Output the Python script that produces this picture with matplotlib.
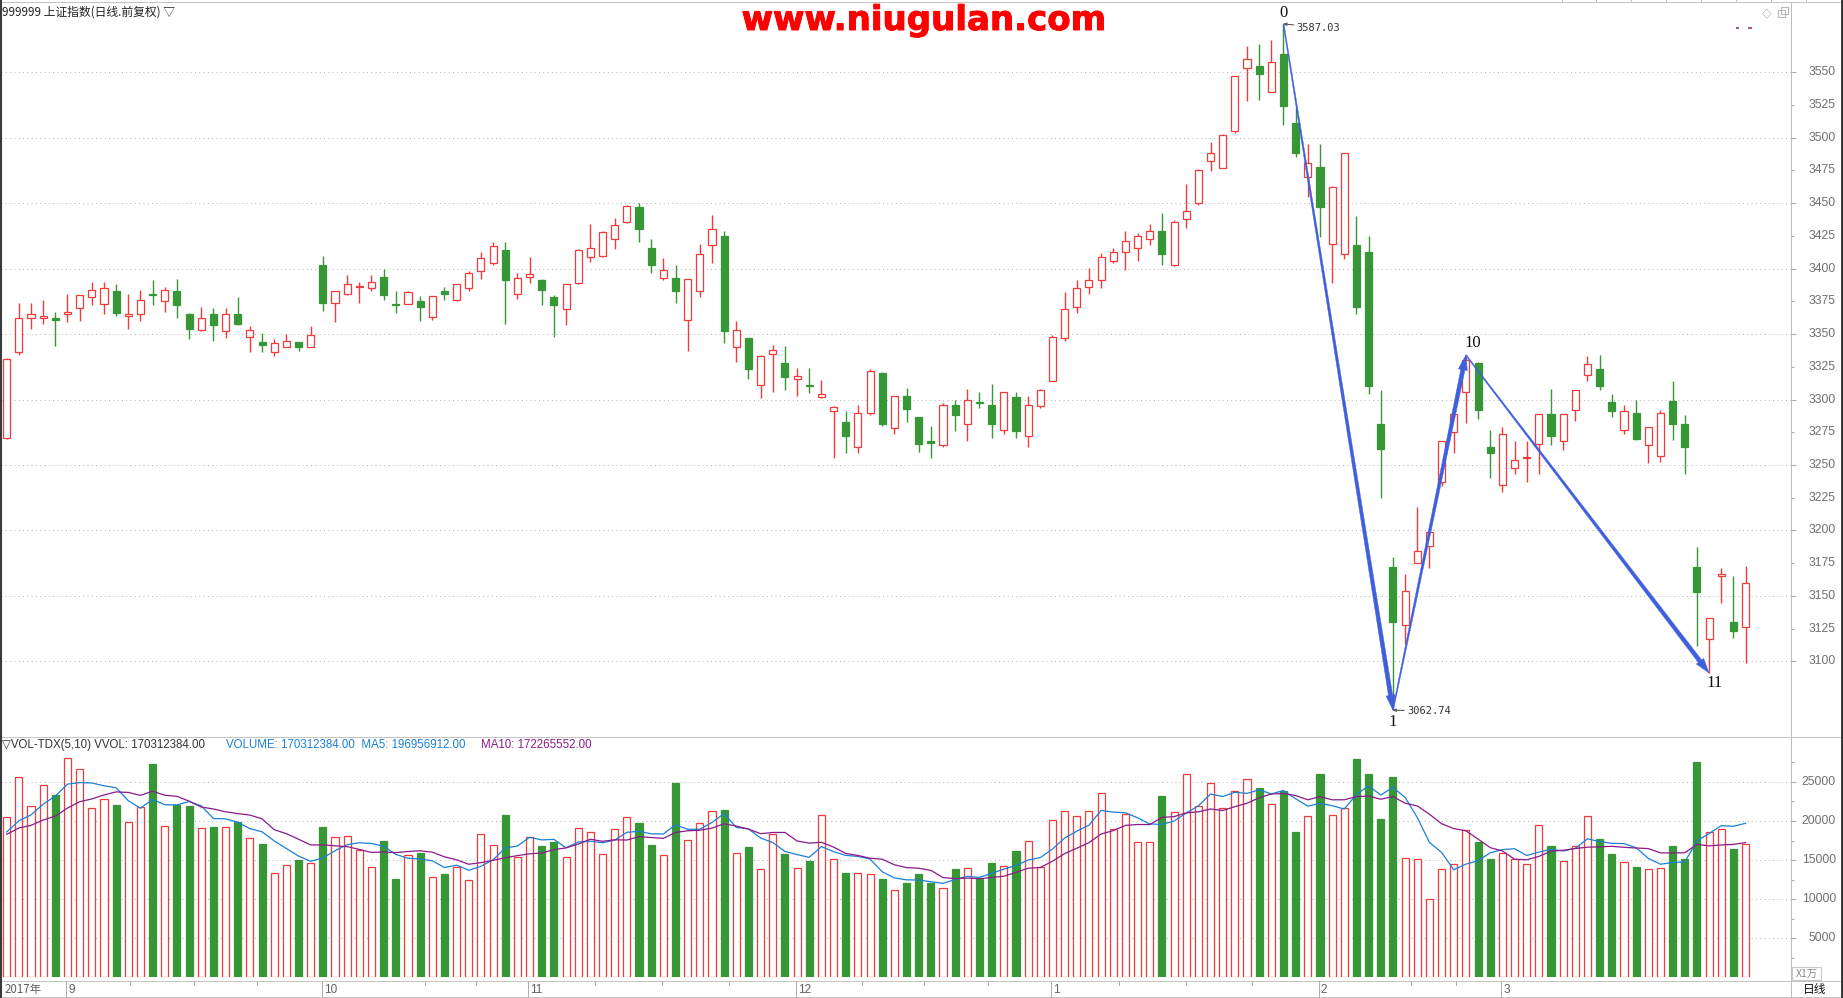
import numpy as np
import pandas as pd
import matplotlib
matplotlib.use('Agg')
import matplotlib.pyplot as plt
from matplotlib.lines import Line2D
from matplotlib.patches import Polygon, Rectangle
import matplotlib.transforms as mtransforms
import matplotlib.patheffects as pe

W, H, DPI = 1843, 998, 100

# ---------------- data (SSE composite, daily, 2017-08-25 .. 2018-03-29) ----------------
opens = [3271,3336,3362,3362,3362,3365,3370,3378,3373,3383,
 3364,3365,3381,3375,3383,3365,3353,3365,3352,3365,
 3348,3344,3336,3340,3344,3340,3403,3374,3381,3386,
 3385,3394,3373,3373,3375,3363,3383,3376,3385,3398,
 3404,3414,3381,3394,3391,3378,3369,3389,3409,3410,
 3423,3436,3447,3416,3393,3393,3361,3383,3418,3425,
 3340,3347,3311,3335,3328,3316,3311,3302,3291,3283,
 3264,3290,3320,3278,3303,3287,3268,3265,3296,3281,
 3298,3296,3277,3302,3272,3295,3314,3347,3371,3386,
 3391,3406,3413,3416,3423,3429,3403,3438,3450,3482,
 3477,3505,3553,3555,3535,3564,3511,3470,3478,3419,
 3411,3418,3413,3281,3172,3128,3175,3188,3237,3275,
 3306,3328,3264,3235,3248,3255,3266,3289,3268,3292,
 3319,3323,3298,3277,3290,3265,3257,3299,3281,3172,
 3117,3165,3130,3126]
highs = [3332,3374,3374,3376,3367,3381,3380,3390,3390,3388,
 3381,3384,3391,3386,3392,3366,3371,3370,3370,3378,
 3356,3351,3346,3350,3344,3356,3410,3383,3395,3390,
 3395,3400,3383,3383,3379,3379,3386,3388,3398,3413,
 3420,3420,3397,3409,3392,3380,3388,3415,3434,3429,
 3439,3449,3450.5,3423,3408,3403,3392,3419,3441,3429,
 3360,3347,3334,3342,3341,3324,3324,3315,3295,3291,
 3296,3323,3321,3303,3309,3287,3280,3297,3300,3308,
 3306,3312,3306,3306,3303,3308,3349,3382,3391,3400.5,
 3412,3416,3429,3427,3434,3442.5,3437,3464.5,3476,3497,
 3503,3547,3570,3572,3575,3587.03,3523,3495,3495,3463,
 3488,3440,3425,3307,3180,3167,3218,3199,3268,3289,
 3334,3329,3277,3279,3268,3268,3289,3308,3289,3307,
 3333,3334,3304,3296,3300,3279,3292,3314,3288,3187,
 3133,3171,3165,3173]
lows = [3270,3334,3354,3358,3341,3359,3360,3372,3365,3364,
 3354,3360,3372,3367,3362,3346,3352,3345,3347,3357,
 3336,3336,3333,3340,3337,3340,3368,3359,3380,3374,
 3383,3376,3366,3373,3360,3361,3376,3375,3383,3392,
 3403,3358,3377,3389,3372,3348,3357,3388,3405,3409,
 3415,3435,3420,3397,3391,3374,3337,3378,3404,3343,
 3329,3316,3301.5,3306,3307,3303,3305,3301,3255,3259,
 3259,3288,3280,3274,3282.5,3260,3255,3264,3276,3268,
 3293.5,3271,3274,3271,3264,3293.5,3314,3345,3366,3381,
 3385,3404,3399,3406,3418,3403,3402,3431,3449,3474.5,
 3477,3504,3528,3529,3535,3510,3485,3455,3424,3389,
 3407,3365,3304,3225,3062.74,3113,3175,3171,3234,3259,
 3282,3285,3240,3229,3243,3237,3243,3265,3261.5,3283.5,
 3314,3307,3287,3274,3269,3251.5,3252.5,3269,3243,3112,
 3091,3144.5,3118,3099]
closes = [3331,3362,3365,3364,3361,3367,3380,3384,3385,3366,
 3365,3376,3380,3384,3372,3354,3362,3357,3365,3358,
 3353,3342,3343,3345,3340,3349,3374,3383,3388,3387,
 3390,3380,3372,3382,3371,3379,3381,3388,3397,3408,
 3417,3391,3393,3396,3384,3372,3388,3414,3416,3428,
 3433,3448,3430,3403,3399,3383,3392,3411,3430,3352,
 3353,3323,3333,3338,3317,3318,3310,3304,3294,3272,
 3290,3322,3281,3303,3293,3266,3267,3296,3288,3300,
 3297,3281,3306,3276,3296,3307,3348,3369,3385,3391,
 3409,3413,3421.5,3425,3429,3411,3436,3444,3475,3488,
 3502,3547,3560,3549,3558,3524,3488,3481,3447,3462,
 3488,3371,3310,3262,3130,3154,3184,3199,3268,3289,
 3330,3292,3259,3274,3254,3256,3289,3272,3289,3307,
 3327,3310,3291,3291,3270,3279,3290,3281,3264,3153,
 3133,3167,3123,3160]
# volume in units of 1万 (x10,000)
volumes = [20470,25650,21890,24550,23380,28110,26620,21640,22800,22090,
 19820,21830,27270,19370,22020,21960,19050,19180,19180,19820,
 17880,17040,13350,14320,14970,14580,19180,17950,18140,16270,
 14070,17500,12640,15680,15880,12840,13220,14130,12450,18400,
 16980,20800,15360,18010,16780,17300,15420,19050,18530,15810,
 18920,20470,19700,16910,15680,24870,17560,19700,21250,21440,
 15940,16650,13810,18400,15750,13940,14840,20730,15170,13350,
 13290,13160,12560,11240,12120,13160,12120,11480,13800,14040,
 12520,14680,14200,16200,17400,14120,20120,21240,20600,21240,
 23560,19000,20920,17320,17320,23240,21160,26040,21960,24840,
 21640,23880,25320,24280,22200,23800,18600,20600,26040,20760,
 21640,27960,26040,20200,25640,15240,15160,10040,13880,14520,
 18840,17320,15080,15960,15080,14520,19480,16840,14920,16760,
 20600,17720,15720,14760,14120,13800,13960,16840,15080,27560,
 18600,18920,16440,17031]
# volumes of the 9 sessions before the window (only feed the moving averages)
vol_prior = [17600,18400,17900,18300,17800,18500,18100,17700,18200]

month_labels = ['9', '10', '11', '12', '1', '2', '3']
month_start_idx = [5, 26, 43, 65, 86, 108, 123]
minor_tick_pos = [10.1, 15.4, 20.6, 34.4, 38.6, 48.4, 53.9, 59.4, 70.3,
                  75.4, 80.7, 91.5, 97.0, 102.4, 115.5, 119.2]
wave_idx = [105, 114, 120, 140]
wave_kind = ['high', 'low', 'high', 'low']
wave_labels = ['0', '1', '10', '11']
price_ticks = list(range(3100, 3551, 25))
price_grid = list(range(3100, 3551, 50))
vol_ticks = [5000, 10000, 15000, 20000, 25000]
vol_minor = [2500, 7500, 12500, 17500, 22500, 27500]

title_text = '999999 上证指数(日线.前复权) ▽'
watermark = 'www.niugulan.com'
vol_hdr1 = '▽VOL-TDX(5,10) VVOL: 170312384.00'
vol_hdr2 = 'VOLUME: 170312384.00  MA5: 196956912.00'
vol_hdr3 = 'MA10: 172265552.00'

# ---------------- style ----------------
RED = '#F43A3A'
GREEN = '#379737'
BLUE = '#1A80D8'
PURPLE = '#8A1A8A'
ARROW = '#3F5FDC'
GRID = '#B4B4B4'
LABEL = '#707070'
NUMFONT = ['Liberation Sans', 'DejaVu Sans']
CJK = ['Noto Sans CJK SC', 'DejaVu Sans']

def fx(x):
    return x / W

def fy(y):
    return 1 - y / H

fig = plt.figure(figsize=(W / DPI, H / DPI), dpi=DPI, facecolor='white')

AX_L, AX_R = 1.0, 1790.7
ax = fig.add_axes([fx(AX_L), fy(736), (AX_R - AX_L) / W, (736 - 3) / H])
axv = fig.add_axes([fx(AX_L), fy(977.4), (AX_R - AX_L) / W, (977.4 - 737) / H])
for a in (ax, axv):
    a.set_facecolor('none')
    for s in a.spines.values():
        s.set_visible(False)
    a.set_xticks([])

X0, DX = 6.7, 12.16
xlim = ((AX_L - X0) / DX, (AX_R - X0) / DX)
ax.set_xlim(xlim)
axv.set_xlim(xlim)
ax.set_ylim(3042.97, 3602.94)
axv.set_ylim(0, 30742)

o = np.array(opens, float); h = np.array(highs, float)
l = np.array(lows, float); c = np.array(closes, float)
v = np.array(volumes, float)
n = len(o)
x = np.arange(n)
up = c >= o
edge = np.where(up, RED, GREEN)
face = np.where(up, 'white', GREEN)

# gridlines
for p in price_grid:
    ax.plot(xlim, [p, p], color=GRID, lw=0.72, ls=(0, (1, 3.3)), zorder=1)
for q in vol_ticks:
    axv.plot(xlim, [q, q], color=GRID, lw=0.72, ls=(0, (1, 3.3)), zorder=1)

# candles
ax.vlines(x, l, h, colors=edge, lw=1.0, zorder=2)
body_bot = np.minimum(o, c)
body_h = np.maximum(np.abs(c - o), 0.35)
ax.bar(x, body_h, bottom=body_bot, width=0.58, color=face, edgecolor=edge,
       linewidth=0.9, zorder=3)

# volume bars + MAs
axv.bar(x, v, width=0.58, color=face, edgecolor=edge, linewidth=0.9, zorder=3)
allv = pd.Series(vol_prior + volumes, dtype=float)
ma5 = allv.rolling(5).mean().to_numpy()[len(vol_prior):]
ma10 = allv.rolling(10).mean().to_numpy()[len(vol_prior):]
axv.plot(x, ma5, color=BLUE, lw=0.9, zorder=4)
axv.plot(x, ma10, color=PURPLE, lw=0.9, zorder=4)

# right axis ticks
for a, majors, minors in ((ax, price_grid, [t for t in price_ticks if t % 50]),
                          (axv, vol_ticks, vol_minor)):
    a.yaxis.tick_right()
    a.set_yticks(majors)
    a.set_yticks(minors, minor=True)
    a.tick_params(axis='y', which='major', length=3.6, width=0.7, color='#A8A8A8',
                  direction='out', labelright=False, labelleft=False)
    a.tick_params(axis='y', which='minor', length=2.2, width=0.7, color='#A8A8A8',
                  direction='out', labelright=False, labelleft=False)

lab_tr = mtransforms.blended_transform_factory(fig.transFigure, ax.transData)
for p in price_ticks:
    ax.text(fx(1836), p, str(p), transform=lab_tr, ha='right', va='center',
            fontsize=8.8, color=LABEL, family=NUMFONT)
lab_trv = mtransforms.blended_transform_factory(fig.transFigure, axv.transData)
for q in vol_ticks:
    axv.text(fx(1836), q, str(q), transform=lab_trv, ha='right', va='center',
             fontsize=8.8, color=LABEL, family=NUMFONT)

# ---------------- wave annotations ----------------
wave_price = [highs[i] if k == 'high' else lows[i] for i, k in zip(wave_idx, wave_kind)]

def tapered_arrow(p_start, p_end, w0=0.5, w1=2.1, head_w=4.6, head_len=15):
    a = ax.transData.transform(p_start)
    b = ax.transData.transform(p_end)
    d = b - a
    u = d / np.hypot(*d)
    nr = np.array([-u[1], u[0]])
    base = b - u * head_len
    pts = [a + nr * w0, base + nr * w1, base + nr * head_w, b,
           base - nr * head_w, base - nr * w1, a - nr * w0]
    poly = Polygon(pts, closed=True, transform=mtransforms.IdentityTransform(),
                   facecolor=ARROW, edgecolor=ARROW, lw=0.3, zorder=6)
    fig.add_artist(poly)

for k in range(len(wave_idx) - 1):
    tapered_arrow((wave_idx[k], wave_price[k]), (wave_idx[k + 1], wave_price[k + 1]))

label_off = {'0': (0, 11), '1': (0, -12), '10': (7, 12.5), '11': (5, -10)}
for i, p, t in zip(wave_idx, wave_price, wave_labels):
    ax.annotate(t, xy=(i, p), xytext=label_off[t], textcoords='offset pixels',
                ha='center', va='center', fontsize=12, color='#111111',
                family=['Liberation Serif', 'DejaVu Serif'], zorder=7)

ax.annotate('3587.03', xy=(wave_idx[0], wave_price[0]), xytext=(13, -4),
            textcoords='offset pixels', ha='left', va='center', fontsize=7.5,
            color='#333333', family='DejaVu Sans Mono', zorder=7,
            arrowprops=dict(arrowstyle='->,head_length=0.25,head_width=0.12',
                            color='#444444', lw=0.7, shrinkA=0, shrinkB=0))
ax.annotate('3062.74', xy=(wave_idx[1], wave_price[1]), xytext=(14, -1),
            textcoords='offset pixels', ha='left', va='center', fontsize=7.5,
            color='#333333', family='DejaVu Sans Mono', zorder=7,
            arrowprops=dict(arrowstyle='->,head_length=0.25,head_width=0.12',
                            color='#444444', lw=0.7, shrinkA=0, shrinkB=0))

# ---------------- header texts ----------------
fig.text(fx(2), fy(12.5), title_text, ha='left', va='center', fontsize=8.5,
         color='#222222', family=CJK)
fig.text(fx(924), fy(30), watermark, ha='center', va='baseline', fontsize=24.5,
         color='#FF0000', weight='bold', family='DejaVu Sans',
         path_effects=[pe.withStroke(linewidth=0.7, foreground='#FF0000')])
fig.text(fx(2), fy(745), vol_hdr1, ha='left', va='center', fontsize=8.3,
         color='#333333', family=NUMFONT)
fig.text(fx(226), fy(745), vol_hdr2, ha='left', va='center', fontsize=8.3,
         color=BLUE, family=NUMFONT)
fig.text(fx(481), fy(745), vol_hdr3, ha='left', va='center', fontsize=8.3,
         color=PURPLE, family=NUMFONT)

# ---------------- frame lines ----------------
def fline(x0, y0, x1, y1, color, lw=0.72):
    fig.add_artist(Line2D([fx(x0), fx(x1)], [fy(y0), fy(y1)], color=color, lw=lw,
                          transform=fig.transFigure, zorder=8))

fline(0, 2, W, 2, '#C4C4C4')
fline(0, 736.5, W, 736.5, '#C4C4C4')
fline(0, 981, W, 981, '#C4C4C4')
fline(0, 997, W, 997, '#C4C4C4')
fline(AX_R, 2, AX_R, H, '#BDBDBD')
fline(0.8, 0, 0.8, H, '#3A3A3A', lw=1.5)
fline(1842, 0, 1842, H, '#2E2E2E', lw=2.0)
for tx in [1561.7, 1596, 1630.7, 1665.7, 1700.7, 1735.7, 1770.7, 1805.7]:
    fline(tx, 0, tx, 2, '#C4C4C4')

# bottom date strip
for idx, lab in zip(month_start_idx, month_labels):
    xp = X0 + DX * idx - 1.2
    fline(xp, 981, xp, 997, '#B0B0B0')
    fig.text(fx(xp + 2), fy(990), lab, ha='left', va='center', fontsize=8.5,
             color='#606060', family=NUMFONT)
for pos in minor_tick_pos:
    xp = X0 + DX * pos
    fline(xp, 981, xp, 984.5, '#B0B0B0')
fig.text(fx(5), fy(990), '2017年', ha='left', va='center', fontsize=8.3,
         color='#606060', family=CJK)
fig.text(fx(1814.5), fy(990), '日线', ha='center', va='center', fontsize=8.5,
         color='#111111', family=CJK)

# X1万 box
fig.add_artist(Rectangle((fx(1792), fy(980)), (1821 - 1792) / W, 13 / H,
                         transform=fig.transFigure, facecolor='white',
                         edgecolor='#C8C8C8', lw=0.8, zorder=8))
fig.text(fx(1806.5), fy(973.5), 'X1万', ha='center', va='center', fontsize=7.5,
         color='#8A8A8A', family=CJK, zorder=9)

# top right icons
fig.text(fx(1766.5), fy(12.8), '◇', ha='center', va='center', fontsize=9,
         color='#B8B8B8', family='DejaVu Sans')
fig.add_artist(Rectangle((fx(1778), fy(16.7)), 6.5 / W, 7 / H, transform=fig.transFigure,
                         facecolor='white', edgecolor='#B8B8B8', lw=0.8, zorder=8))
fig.add_artist(Rectangle((fx(1781), fy(14)), 6.5 / W, 6.7 / H, transform=fig.transFigure,
                         facecolor='none', edgecolor='#B8B8B8', lw=0.8, zorder=8))
for dx in (1737.7, 1750.0):
    fline(dx - 0.6, 28, dx + 0.6, 28, '#9B4F96', lw=1.4)

fig.savefig('out.png', dpi=DPI, facecolor='white')
